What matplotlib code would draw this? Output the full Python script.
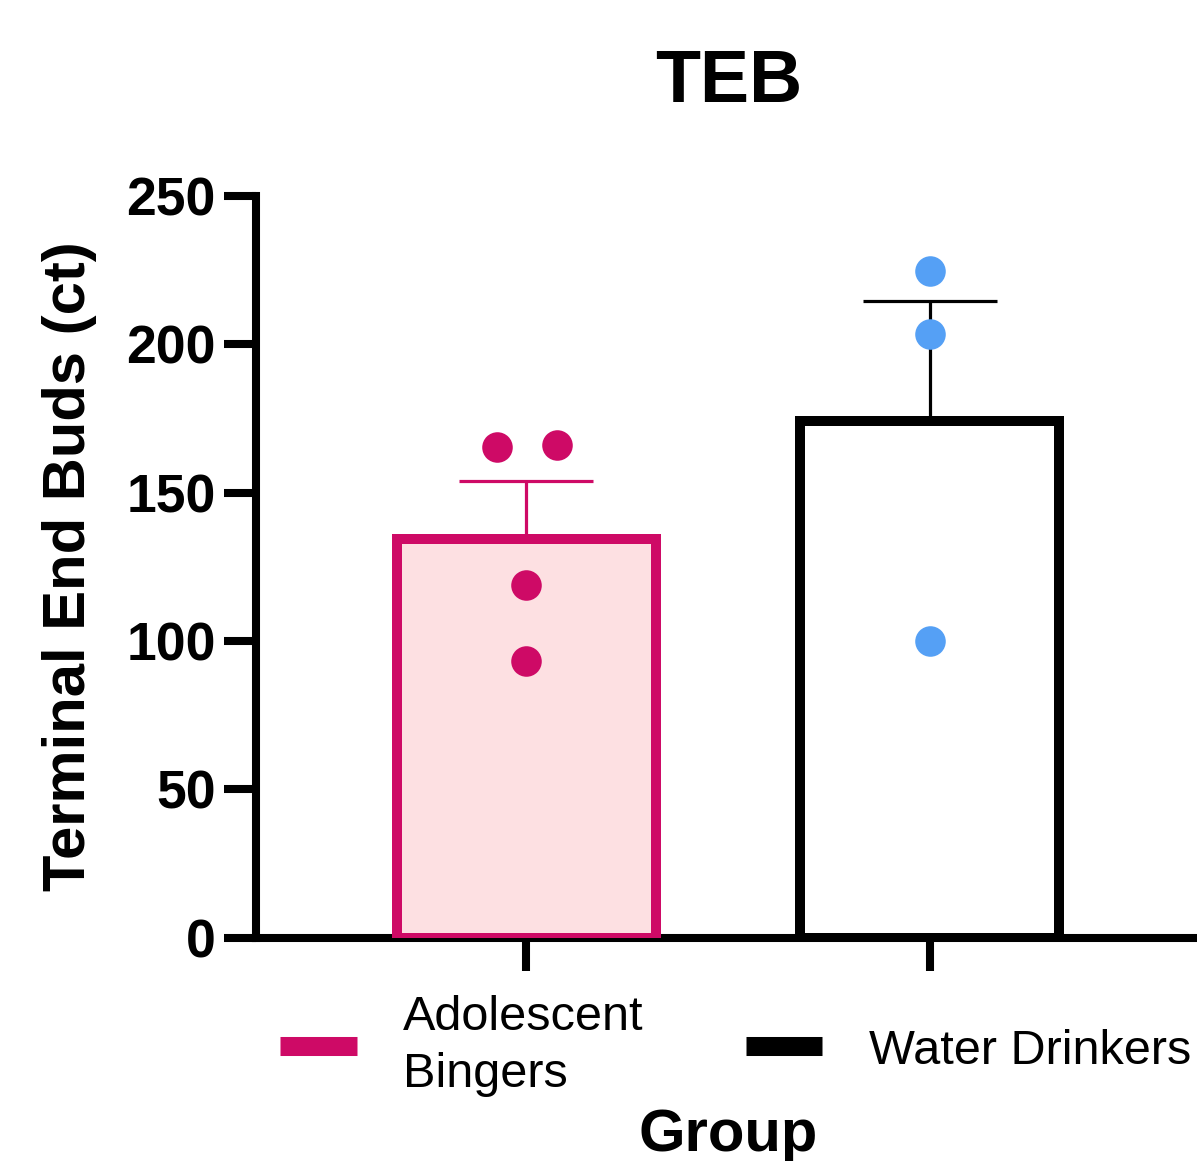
import matplotlib
matplotlib.use('Agg')
import matplotlib.pyplot as plt
from matplotlib.lines import Line2D

plt.rcParams['font.family'] = ['Liberation Sans', 'DejaVu Sans']

# data
groups = ['Adolescent\nBingers', 'Water Drinkers']
means = [134.3, 174.3]
sems = [19.5, 40.3]
binger_pts = [165.4, 165.9, 118.8, 93.1]
water_pts = [224.8, 203.4, 99.9]
yticks = [0, 50, 100, 150, 200, 250]

pink = '#CE0A66'
pink_fill = '#FDE0E2'
blue = '#55A0F5'

fig = plt.figure(figsize=(11.97, 11.61), dpi=100)
ax = fig.add_axes([256/1197, 1-937.5/1161, 941/1197, (937.5-196)/1161])

x = [0, 1]
bw = 0.642
ax.bar(x[0], means[0], width=bw, color=pink_fill, edgecolor=pink, linewidth=7.2, zorder=3)
ax.bar(x[1], means[1], width=bw, color='white', edgecolor='black', linewidth=7.2, zorder=3)

# upper error bars only
ax.errorbar(x[0], means[0], yerr=[[0], [sems[0]]], fmt='none', ecolor=pink,
            elinewidth=2.3, capsize=48, capthick=2.3, zorder=2)
ax.errorbar(x[1], means[1], yerr=[[0], [sems[1]]], fmt='none', ecolor='black',
            elinewidth=2.3, capsize=48, capthick=2.3, zorder=2)

# individual points (first two bingers points are side by side)
b_off = [-0.073, 0.076, 0, 0]
ax.scatter([x[0] + o for o in b_off], binger_pts, s=22**2, color=pink, zorder=5, linewidths=0)
ax.scatter([x[1]] * len(water_pts), water_pts, s=22**2, color=blue, zorder=5, linewidths=0)

ax.set_xlim(-0.670, 1.662)
ax.set_ylim(0, 250)
ax.set_yticks(yticks)
ax.set_xticks(x)
ax.set_xticklabels([])
for lab in ax.get_yticklabels():
    lab.set_fontweight('bold')
ax.tick_params(axis='y', labelsize=38.5, length=23, width=5.8, pad=6)
ax.tick_params(axis='x', length=24, width=5.8)
for s in ['top', 'right']:
    ax.spines[s].set_visible(False)
for s in ['left', 'bottom']:
    ax.spines[s].set_linewidth(5.8)

fig.text(729/1197, 1-102/1161, 'TEB', fontsize=53, fontweight='bold', ha='center', va='baseline')
fig.text(70/1197, 1-566.5/1161, 'Terminal End Buds (ct)', fontsize=43, fontweight='bold',
         rotation=90, ha='center', va='center')
fig.text(728/1197, 1-1151/1161, 'Group', fontsize=43, fontweight='bold', ha='center', va='baseline')

handles = [Line2D([], [], color=pink, linewidth=13.7, solid_capstyle='butt'),
           Line2D([], [], color='black', linewidth=13.7, solid_capstyle='butt')]
leg = fig.legend(handles, groups, loc='center left', bbox_to_anchor=(280/1197, 1-1046/1161),
                 ncol=2, frameon=False, fontsize=35, handlelength=1.58, handletextpad=0.95,
                 columnspacing=2.1, borderpad=0, borderaxespad=0)
for t in leg.get_texts():
    t.set_linespacing(1.35)

fig.savefig('out.png', dpi=100)
